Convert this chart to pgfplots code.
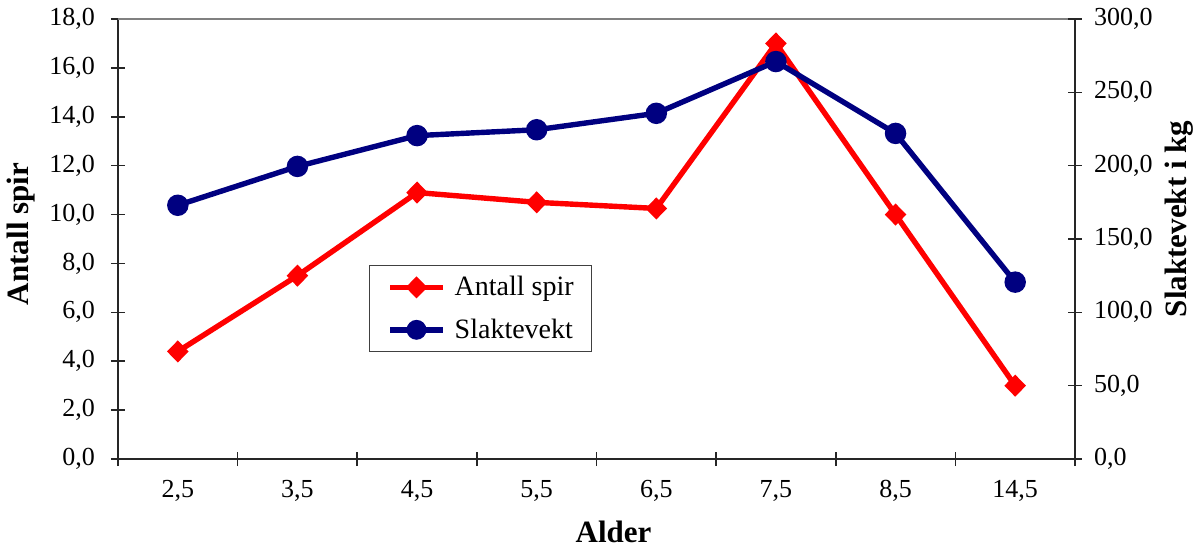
\documentclass[border=0pt]{standalone}
\usepackage{fontspec}
\setmainfont{Liberation Serif}
\usepackage{pgfplots}
\pgfplotsset{compat=1.18}

\definecolor{spirred}{RGB}{255,0,0}
\definecolor{vektblue}{RGB}{0,0,128}

\newcommand{\labelfont}{\fontsize{15.5}{18}\selectfont\bfseries}

\pgfplotsset{
  common/.style={
    scale only axis,
    width=478.5pt, height=220pt,
    xmin=-0.5, xmax=7.5,
    tick align=center,
    major tick length=7pt,
    minor tick length=7pt,
    axis line style={line width=0.8pt, black!85},
    every tick/.style={line width=0.8pt, black!85},
    tick label style={font=\fontsize{13}{15}\selectfont},
    yticklabel style={/pgf/number format/fixed,
      /pgf/number format/fixed zerofill,
      /pgf/number format/precision=1,
      /pgf/number format/use comma,
      /pgf/number format/1000 sep={},
      /pgf/number format/assume math mode=true},
    clip=false,
  },
  seriesline/.style={line width=2.7pt},
}

\begin{document}
\begin{tikzpicture}
\useasboundingbox (-59pt,-44.5pt) rectangle (543pt,229.5pt);

% left axis: number of sprouts
\begin{axis}[common,
  axis y line*=left, axis x line*=bottom,
  ymin=0, ymax=18, ytick distance=2,
  yticklabel style={xshift=-4.5pt},
  xtick={0,...,7},
  xticklabels={{2,5},{3,5},{4,5},{5,5},{6,5},{7,5},{8,5},{14,5}},
  xticklabel style={yshift=-3.5pt},
  minor xtick={-0.5,0.5,...,7.5},
  major x tick style={draw=none},
  ylabel={Antall spir}, xlabel={Alder},
  every axis y label/.style={at={(axis description cs:-0.1014,0.5114)}, anchor=center, rotate=90, font=\labelfont},
  every axis x label/.style={at={(axis description cs:0.5178,-0.166)}, anchor=center, font=\labelfont},
  legend style={at={(rel axis cs:0.262,0.441)}, anchor=north west,
    draw=black!75, line width=0.6pt,
    font=\fontsize{14}{16}\selectfont,
    inner xsep=9pt, inner ysep=5.3pt,
    nodes={inner sep=0pt}, column sep=4.5pt, row sep=10pt},
  legend cell align=left,
  legend image code/.code={\draw[mark repeat=2, mark phase=2] plot coordinates {(0pt,0pt) (13.25pt,0pt) (26.5pt,0pt)};},
  after end axis/.code={\draw[gray, line width=0.8pt] (rel axis cs:0,1) -- (rel axis cs:1,1);},
]
\addplot[spirred, seriesline, mark=diamond*, mark size=3.6pt, mark options={xscale=1.3}]
  coordinates {(0,4.4) (1,7.5) (2,10.9) (3,10.5) (4,10.25) (5,17.0) (6,10.0) (7,3.0)};
\addlegendentry{Antall spir}
\addlegendimage{vektblue, seriesline, mark=*, mark size=3.6pt}
\addlegendentry{Slaktevekt}
\end{axis}

% right axis: carcass weight
\begin{axis}[common,
  axis y line*=right, axis x line=none,
  ymin=0, ymax=300, ytick distance=50,
  yticklabel style={xshift=2.5pt},
  ylabel={Slaktevekt i kg},
  every axis y label/.style={at={(axis description cs:1.1086,0.5455)}, anchor=center, rotate=90, font=\labelfont},
]
\addplot[vektblue, seriesline, mark=*, mark size=4pt]
  coordinates {(0,173) (1,199.5) (2,220.5) (3,224.5) (4,235.7) (5,271) (6,222) (7,120.6)};
\end{axis}
\end{tikzpicture}
\end{document}
